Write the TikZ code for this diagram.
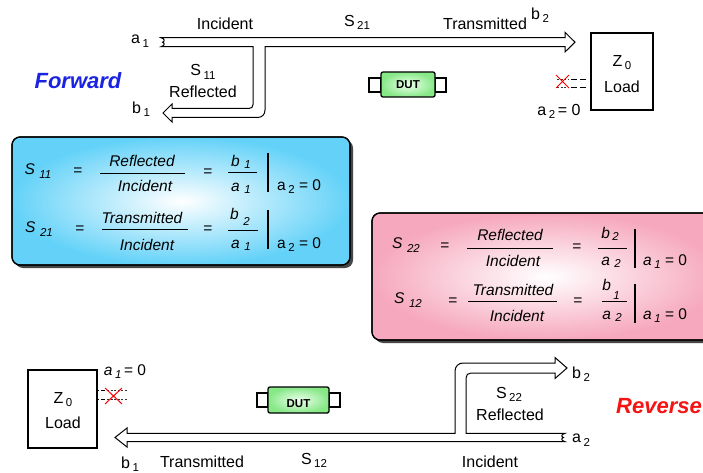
\documentclass[tikz,border=0pt]{standalone}
\usepackage{fontspec}
\setmainfont{Liberation Sans}
\newcommand\lsb[2][3.5pt]{\hspace{2.5pt}\raisebox{-#1}{\fontsize{11.5}{12}\selectfont #2}}
\newcommand\esb[2][3.5pt]{\hspace{4.5pt}\raisebox{-#1}{\fontsize{11.5}{12}\selectfont #2}}
\definecolor{fwdblue}{RGB}{25,35,225}
\definecolor{revred}{RGB}{245,20,20}
\definecolor{boxblue}{RGB}{100,210,248}
\definecolor{boxpink}{RGB}{246,168,190}
\definecolor{dutgreen}{RGB}{135,232,135}
\definecolor{dutlight}{RGB}{238,255,238}
\tikzset{
  lbl/.style={font=\fontsize{16}{19}\selectfont, inner sep=0pt},
  eq/.style={font=\fontsize{15.5}{18}\selectfont\itshape, inner sep=0pt},
  eqr/.style={font=\fontsize{15.5}{18}\selectfont, inner sep=0pt},
  blockarrow/.style={draw=black, line width=1pt, fill=white, line join=miter},
  loadbox/.style={draw, line width=1.6pt, fill=white, inner sep=0pt},
  dutbody/.style={draw, line width=1.3pt, rounded corners=2pt, inner color=dutlight, outer color=dutgreen},
  duttab/.style={draw, line width=1.3pt, fill=white},
  frbar/.style={line width=0.9pt},
  vbar/.style={line width=1.1pt},
  shadowbox/.style={fill=black!72, rounded corners=8pt},
  eqbox/.style={draw=black, line width=1.2pt, rounded corners=8pt},
  crossx/.style={draw=red, line width=1pt},
  term/.style={line width=1pt},
}
\begin{document}
\begin{tikzpicture}[x=1pt,y=-1pt]
\useasboundingbox (0,0) rectangle (703,473);
\fill[white] (0,0) rectangle (703,473);
\begin{scope}
\clip (0,0) rectangle (703,473);

% ---------------- Forward (top) ----------------
\draw[blockarrow] (163,37.7) -- (565,37.7) -- (565,32.3) -- (575,42.2) -- (565,52) -- (565,46.7)
  -- (265,46.7) -- (265,110) .. controls (265,114.5) and (262,117.5) .. (257.5,117.5)
  -- (172,117.5) -- (172,122) -- (163,113) -- (172,104) -- (172,108.5)
  -- (249,108.5) .. controls (251.5,108.5) and (253,107) .. (253,104.5)
  -- (253,46.7) -- (163,46.7) -- (161,46.7)
  .. controls (165,45.5) and (165,43) .. (162.5,42.2)
  .. controls (165,41.4) and (165,38.9) .. (161,37.7) -- cycle;

\node[lbl] (a1t) at (140,41) {a\lsb{1}};
\node[lbl] (inc1) at (225,24) {Incident};
\node[lbl] (s21l) at (357,22) {S\lsb[3pt]{21}};
\node[lbl] (tr1) at (485,24) {Transmitted};
\node[lbl] (b2t) at (540,15) {b\lsb{2}};
\node[lbl] (s11l) at (203,72) {S\lsb{11}};
\node[lbl] (ref1) at (203,92) {Reflected};
\node[lbl] (b1t) at (141,109) {b\lsb{1}};
\node[font=\fontsize{22}{26}\selectfont\bfseries\itshape, text=fwdblue, inner sep=0pt] (fwd) at (78,81) {Forward};

% DUT top
\draw[duttab] (369,78) rectangle (381,92);
\draw[duttab] (435,78) rectangle (446,92);
\draw[dutbody] (381,72) rectangle (435,97);
\node[font=\fontsize{11.5}{13}\selectfont\bfseries, inner sep=0pt] (dut1) at (408,85) {DUT};

% Load top
\node[loadbox, minimum width=62pt, minimum height=77pt] (load1) at (621.7,71.3) {};
\node[lbl] (z01) at (622,63) {Z\lsb[3pt]{0}};
\node[lbl] (ld1) at (622,87) {Load};
% terminal crossed
\draw[term, dashed, dash pattern=on 2pt off 1.5pt, black!80] (557,80) -- (569,80) (557,88) -- (569,88);
\draw[term] (571,80) -- (577,80) (580,80) -- (586,80) (571,88) -- (577,88) (580,88) -- (586,88);
\draw[crossx] (556,75) -- (569,88) (556,88) -- (569,75);
\node[lbl] (a20t) at (559,111) {a\lsb[3pt]{2}\,= 0};

% ---------------- Blue equation box ----------------
\fill[shadowbox] (15,140) rectangle (353,268);
\path[eqbox, inner color=white, outer color=boxblue] (12,137) rectangle (350,265);
\draw[eqbox] (12,137) rectangle (350,265);

\node[eq] (bS11) at (38,171) {S\esb{11}};
\node[eqr] (be11) at (78,172) {=};
\node[eq] (bn11) at (142,161) {Reflected};
\draw[frbar] (100,173) -- (185,173);
\node[eq] (bd11) at (145,186) {Incident};
\node[eqr] (be12) at (208,173) {=};
\node[eq] (bb1) at (241,162) {b\esb[2pt]{1}};
\draw[frbar] (228,172) -- (257,172);
\node[eq] (ba1) at (241,188) {a\esb[2pt]{1}};
\draw[vbar] (268,153) -- (268,192);
\node[eqr, anchor=west] (bc1) at (277,187) {a\lsb[3pt]{2} = 0};

\node[eq] (bS21) at (39,229) {S\esb{21}};
\node[eqr] (be21) at (80,230) {=};
\node[eq] (bn21) at (142,218) {Transmitted};
\draw[frbar] (102,229.5) -- (188,229.5);
\node[eq] (bd21) at (147,245) {Incident};
\node[eqr] (be22) at (208,230) {=};
\node[eq] (bb2) at (240,217) {b\esb[6pt]{2}};
\draw[frbar] (228,230) -- (258,230);
\node[eq] (ba12) at (241,245) {a\esb[2pt]{1}};
\draw[vbar] (268,210) -- (268,249);
\node[eqr, anchor=west] (bc2) at (277,245) {a\lsb[3pt]{2} = 0};

% ---------------- Pink equation box ----------------
\fill[shadowbox] (375,216) rectangle (723,343);
\path[eqbox, inner color=white, outer color=boxpink] (372,213) rectangle (720,340);
\draw[eqbox] (372,213) rectangle (720,340);

\node[eq] (pS22) at (406,245) {S\esb{22}};
\node[eqr] (pe11) at (445,247) {=};
\node[eq] (pn11) at (510,235) {Reflected};
\draw[frbar] (467,248) -- (553,248);
\node[eq] (pd11) at (513,261) {Incident};
\node[eqr] (pe12) at (577,248) {=};
\node[eq] (pb2) at (610,234) {b\lsb[2pt]{2}};
\draw[frbar] (598,248) -- (627,248);
\node[eq] (pa2) at (611,262) {a\esb[2pt]{2}};
\draw[vbar] (635,229) -- (635,268);
\node[eq, anchor=west] (pc1) at (643,262) {a\lsb[3pt]{1} \upshape= 0};

\node[eq] (pS12) at (408,300) {S\esb{12}};
\node[eqr] (pe21) at (453,302) {=};
\node[eq] (pn21) at (513,290) {Transmitted};
\draw[frbar] (468,301) -- (557,301);
\node[eq] (pd21) at (517,316) {Incident};
\node[eqr] (pe22) at (578,302) {=};
\node[eq] (pb1) at (611,289) {b\lsb[9pt]{1}};
\draw[frbar] (602,301) -- (627,301);
\node[eq] (pa22) at (612,316) {a\esb[2pt]{2}};
\draw[vbar] (635,284) -- (635,323);
\node[eq, anchor=west] (pc2) at (643,316) {a\lsb[3pt]{1} \upshape= 0};

% ---------------- Reverse (bottom) ----------------
\draw[blockarrow] (563,433.3) -- (466,433.3) -- (466,378)
  .. controls (466,375) and (468,373) .. (471,373)
  -- (555,373) -- (555,378.5) -- (567,368) -- (555,357.5) -- (555,363)
  -- (463,363) .. controls (458.5,363) and (455,366.5) .. (455,371)
  -- (455,433.3) -- (127,433.3) -- (127,428) -- (115,437.5) -- (127,447) -- (127,441.7)
  -- (563,441.7) -- (565,441.7)
  .. controls (561,440.5) and (561,438.3) .. (563.5,437.5)
  .. controls (561,436.7) and (561,434.5) .. (565,433.3) -- cycle;

\node[lbl] (b1b) at (130,464) {b\lsb{1}};
\node[lbl] (tr2) at (202,462) {Transmitted};
\node[lbl] (s12l) at (314,460) {S\lsb[3pt]{12}};
\node[lbl] (inc2) at (490,462) {Incident};
\node[lbl] (s22l) at (509,394) {S\lsb[3pt]{22}};
\node[lbl] (ref2) at (510,415) {Reflected};
\node[lbl] (b2b) at (581,374) {b\lsb{2}};
\node[lbl] (a2b) at (581,440) {a\lsb{2}};
\node[font=\fontsize{22}{26}\selectfont\bfseries\itshape, text=revred, inner sep=0pt] (rev) at (659,406) {Reverse};

% DUT bottom
\draw[duttab] (257,393) rectangle (268,407);
\draw[duttab] (329,393) rectangle (340,407);
\draw[dutbody] (268,387) rectangle (329,413);
\node[font=\fontsize{11.5}{13}\selectfont\bfseries, inner sep=0pt] (dut2) at (298.5,404) {DUT};

% Load bottom
\node[loadbox, minimum width=69pt, minimum height=78pt] (load2) at (62.5,409) {};
\node[lbl] (z02) at (63,400) {Z\lsb[3pt]{0}};
\node[lbl] (ld2) at (63,423) {Load};
\draw[term] (96,390) -- (99,390) (101,390) -- (105,390) (96,399) -- (99,399) (101,399) -- (105,399);
\draw[term, dashed, dash pattern=on 2pt off 1.5pt, black!80] (107,390) -- (127,390) (107,399) -- (127,399);
\draw[crossx] (105,388) -- (122,404) (105,404) -- (122,388);
\node[eq] (a10b) at (125,372) {a\lsb[3pt]{1}\,\upshape= 0};
\end{scope}
\end{tikzpicture}
\end{document}
